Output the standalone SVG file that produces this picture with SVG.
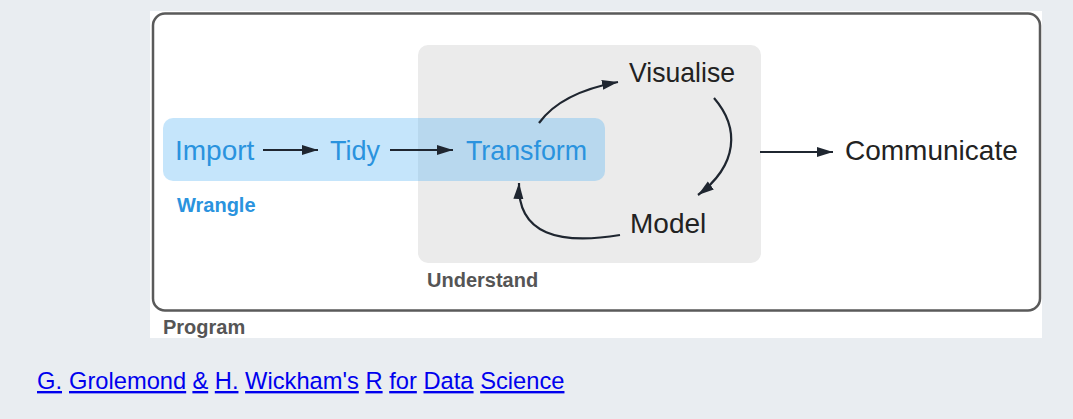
<svg xmlns="http://www.w3.org/2000/svg" width="1073" height="419" viewBox="0 0 1073 419">
<style>
.main{font-family:"Liberation Sans",Arial,sans-serif;font-size:28px;}
.blue{fill:#2a93de;}
.dark{fill:#222;}
.lbl{font-family:"Liberation Sans",Arial,sans-serif;font-size:20px;font-weight:bold;}
.conn{fill:none;stroke:#1f2630;stroke-width:2.2;}
.link{font-family:"Liberation Sans",Arial,sans-serif;font-size:23.7px;fill:#0000ee;text-decoration:underline;}
</style>
<defs>
<marker id="ah" markerUnits="userSpaceOnUse" markerWidth="17" markerHeight="11" refX="16" refY="5" orient="auto">
<path d="M0,0 L16,5 L0,10 z" fill="#1f2630"/>
</marker>
</defs>
<rect x="0" y="0" width="1073" height="419" fill="#e9edf1"/>
<rect x="150" y="11" width="892" height="327" fill="#ffffff"/>
<g id="program">
<rect x="153" y="13.5" width="887" height="297" rx="12" fill="none" stroke="#5a5a5a" stroke-width="2.5"/>
<text class="lbl" x="163" y="334" fill="#555">Program</text>
</g>
<g id="understand">
<rect x="418" y="45" width="343" height="218" rx="10" fill="#ebebeb"/>
<text class="lbl" x="427" y="287" fill="#555">Understand</text>
</g>
<g id="wrangle">
<rect x="163" y="118" width="442" height="63" rx="10" fill="rgb(89,180,243)" fill-opacity="0.35"/>
<text class="lbl blue" x="177" y="212">Wrangle</text>
</g>
<g id="import"><text class="main blue" x="175" y="160">Import</text></g>
<g id="tidy"><text class="main blue" x="330" y="160" textLength="50" lengthAdjust="spacingAndGlyphs">Tidy</text></g>
<g id="transform"><text class="main blue" x="466" y="160" textLength="121" lengthAdjust="spacingAndGlyphs">Transform</text></g>
<g id="visualise"><text class="main dark" x="629" y="82" textLength="106" lengthAdjust="spacingAndGlyphs">Visualise</text></g>
<g id="model"><text class="main dark" x="630" y="233">Model</text></g>
<g id="communicate"><text class="main dark" x="845" y="160">Communicate</text></g>
<g id="connectors">
<path class="conn" d="M263,150 L318,150" marker-end="url(#ah)"/>
<path class="conn" d="M390,150 L453,150" marker-end="url(#ah)"/>
<path class="conn" d="M539,123 C552,105 575,90 618,82" marker-end="url(#ah)"/>
<path class="conn" d="M714,98 C740,128 738,165 698,195" marker-end="url(#ah)"/>
<path class="conn" d="M620,235 C560,245 517,235 519,183" marker-end="url(#ah)"/>
<path class="conn" d="M760,152 L833,152" marker-end="url(#ah)"/>
</g>
<g id="citation">
<text class="link" x="37" y="389">G.</text>
<text class="link" x="69" y="389">Grolemond</text>
<text class="link" x="192.4" y="389">&amp;</text>
<text class="link" x="214.8" y="389">H.</text>
<text class="link" x="245.1" y="389">Wickham's</text>
<text class="link" x="365.5" y="389">R</text>
<text class="link" x="389.2" y="389">for</text>
<text class="link" x="423.5" y="389">Data</text>
<text class="link" x="480.2" y="389">Science</text>
</g>
</svg>
